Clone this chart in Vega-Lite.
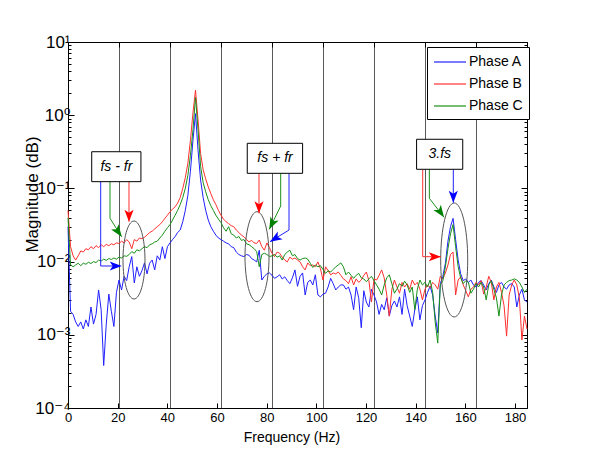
{
"$schema": "https://vega.github.io/schema/vega-lite/v6.json",
"width": 459, "height": 366,
"autosize": {"type": "none"},
"padding": {"left": 68, "top": 42, "right": 64, "bottom": 66},
"background": "white",
"config": {"view": {"stroke": null}, "font": "Liberation Sans",
  "axis": {"labelFont": "Liberation Sans", "titleFont": "Liberation Sans", "labelColor": "black", "titleColor": "black", "titleFontWeight": "normal", "domainColor": "black", "tickColor": "black", "domainWidth": 1, "tickWidth": 1, "labelFlush": false, "labelOverlap": false}},
"datasets": {
"spec": [
{"f":0,"Phase A":0.03,"Phase B":0.05,"Phase C":0.04},
{"f":1,"Phase A":0.0021,"Phase B":0.016,"Phase C":0.009},
{"f":2,"Phase A":0.0019,"Phase B":0.012,"Phase C":0.0085},
{"f":3,"Phase A":0.0015,"Phase B":0.0105,"Phase C":0.009},
{"f":4,"Phase A":0.0013,"Phase B":0.012,"Phase C":0.0095},
{"f":5,"Phase A":0.0015,"Phase B":0.014,"Phase C":0.0088},
{"f":6,"Phase A":0.0012,"Phase B":0.0135,"Phase C":0.0095},
{"f":7,"Phase A":0.0016,"Phase B":0.015,"Phase C":0.0092},
{"f":8,"Phase A":0.0013,"Phase B":0.0145,"Phase C":0.0098},
{"f":9,"Phase A":0.0024,"Phase B":0.016,"Phase C":0.0094},
{"f":10,"Phase A":0.0014,"Phase B":0.015,"Phase C":0.01},
{"f":11,"Phase A":0.0019,"Phase B":0.0165,"Phase C":0.0097},
{"f":12,"Phase A":0.0041,"Phase B":0.0155,"Phase C":0.0105},
{"f":13,"Phase A":0.0022,"Phase B":0.017,"Phase C":0.0102},
{"f":14,"Phase A":0.00038,"Phase B":0.016,"Phase C":0.0108},
{"f":15,"Phase A":0.0014,"Phase B":0.0172,"Phase C":0.0104},
{"f":16,"Phase A":0.0036,"Phase B":0.0165,"Phase C":0.011},
{"f":17,"Phase A":0.0021,"Phase B":0.0175,"Phase C":0.0107},
{"f":18,"Phase A":0.0013,"Phase B":0.017,"Phase C":0.0112},
{"f":19,"Phase A":0.0038,"Phase B":0.018,"Phase C":0.0108},
{"f":20,"Phase A":0.0056,"Phase B":0.0177,"Phase C":0.0115},
{"f":21,"Phase A":0.0041,"Phase B":0.019,"Phase C":0.0112},
{"f":22,"Phase A":0.0063,"Phase B":0.018,"Phase C":0.012},
{"f":23,"Phase A":0.0055,"Phase B":0.02,"Phase C":0.0118},
{"f":24,"Phase A":0.0085,"Phase B":0.0185,"Phase C":0.0125},
{"f":25,"Phase A":0.0117,"Phase B":0.015,"Phase C":0.0137},
{"f":26,"Phase A":0.0051,"Phase B":0.02,"Phase C":0.013},
{"f":27,"Phase A":0.0085,"Phase B":0.019,"Phase C":0.0145},
{"f":28,"Phase A":0.0063,"Phase B":0.021,"Phase C":0.014},
{"f":29,"Phase A":0.0075,"Phase B":0.0205,"Phase C":0.015},
{"f":30,"Phase A":0.0096,"Phase B":0.0215,"Phase C":0.016},
{"f":31,"Phase A":0.0068,"Phase B":0.023,"Phase C":0.0155},
{"f":32,"Phase A":0.0095,"Phase B":0.025,"Phase C":0.017},
{"f":33,"Phase A":0.0105,"Phase B":0.026,"Phase C":0.0175},
{"f":34,"Phase A":0.0077,"Phase B":0.028,"Phase C":0.0185},
{"f":35,"Phase A":0.012,"Phase B":0.03,"Phase C":0.019},
{"f":36,"Phase A":0.0105,"Phase B":0.032,"Phase C":0.021},
{"f":37,"Phase A":0.016,"Phase B":0.035,"Phase C":0.023},
{"f":38,"Phase A":0.011,"Phase B":0.039,"Phase C":0.026},
{"f":39,"Phase A":0.016,"Phase B":0.043,"Phase C":0.029},
{"f":40,"Phase A":0.018,"Phase B":0.048,"Phase C":0.032},
{"f":41,"Phase A":0.02,"Phase B":0.052,"Phase C":0.037},
{"f":42,"Phase A":0.022,"Phase B":0.056,"Phase C":0.043},
{"f":43,"Phase A":0.025,"Phase B":0.063,"Phase C":0.05},
{"f":44,"Phase A":0.027,"Phase B":0.075,"Phase C":0.06},
{"f":45,"Phase A":0.035,"Phase B":0.1,"Phase C":0.075},
{"f":46,"Phase A":0.05,"Phase B":0.14,"Phase C":0.1},
{"f":47,"Phase A":0.08,"Phase B":0.22,"Phase C":0.15},
{"f":48,"Phase A":0.17,"Phase B":0.45,"Phase C":0.28},
{"f":49,"Phase A":0.45,"Phase B":1.07,"Phase C":0.63},
{"f":50,"Phase A":1.05,"Phase B":2.2,"Phase C":1.75},
{"f":51,"Phase A":0.33,"Phase B":0.86,"Phase C":0.63},
{"f":52,"Phase A":0.13,"Phase B":0.3,"Phase C":0.2},
{"f":53,"Phase A":0.075,"Phase B":0.18,"Phase C":0.12},
{"f":54,"Phase A":0.05,"Phase B":0.135,"Phase C":0.09},
{"f":55,"Phase A":0.037,"Phase B":0.105,"Phase C":0.07},
{"f":56,"Phase A":0.03,"Phase B":0.085,"Phase C":0.058},
{"f":57,"Phase A":0.026,"Phase B":0.07,"Phase C":0.05},
{"f":58,"Phase A":0.023,"Phase B":0.06,"Phase C":0.043},
{"f":59,"Phase A":0.021,"Phase B":0.05,"Phase C":0.038},
{"f":60,"Phase A":0.02,"Phase B":0.043,"Phase C":0.034},
{"f":61,"Phase A":0.019,"Phase B":0.038,"Phase C":0.029},
{"f":62,"Phase A":0.018,"Phase B":0.035,"Phase C":0.026},
{"f":63,"Phase A":0.0175,"Phase B":0.033,"Phase C":0.03},
{"f":64,"Phase A":0.016,"Phase B":0.031,"Phase C":0.024},
{"f":65,"Phase A":0.0155,"Phase B":0.03,"Phase C":0.023},
{"f":66,"Phase A":0.0135,"Phase B":0.027,"Phase C":0.021},
{"f":67,"Phase A":0.0125,"Phase B":0.025,"Phase C":0.022},
{"f":68,"Phase A":0.012,"Phase B":0.023,"Phase C":0.0195},
{"f":69,"Phase A":0.0117,"Phase B":0.0218,"Phase C":0.02},
{"f":70,"Phase A":0.0125,"Phase B":0.02,"Phase C":0.0175},
{"f":71,"Phase A":0.0122,"Phase B":0.0186,"Phase C":0.017},
{"f":72,"Phase A":0.011,"Phase B":0.0195,"Phase C":0.016},
{"f":73,"Phase A":0.0105,"Phase B":0.018,"Phase C":0.015},
{"f":74,"Phase A":0.0099,"Phase B":0.0177,"Phase C":0.0137},
{"f":75,"Phase A":0.0143,"Phase B":0.0197,"Phase C":0.0085},
{"f":76,"Phase A":0.0056,"Phase B":0.016,"Phase C":0.0125},
{"f":77,"Phase A":0.0063,"Phase B":0.0143,"Phase C":0.013},
{"f":78,"Phase A":0.0068,"Phase B":0.018,"Phase C":0.0125},
{"f":79,"Phase A":0.007,"Phase B":0.0155,"Phase C":0.0117},
{"f":80,"Phase A":0.0065,"Phase B":0.013,"Phase C":0.012},
{"f":81,"Phase A":0.0059,"Phase B":0.0117,"Phase C":0.0125},
{"f":82,"Phase A":0.0062,"Phase B":0.0135,"Phase C":0.0115},
{"f":83,"Phase A":0.0066,"Phase B":0.013,"Phase C":0.012},
{"f":84,"Phase A":0.0058,"Phase B":0.0115,"Phase C":0.0105},
{"f":85,"Phase A":0.0062,"Phase B":0.0105,"Phase C":0.0125},
{"f":86,"Phase A":0.0055,"Phase B":0.0099,"Phase C":0.0135},
{"f":87,"Phase A":0.005,"Phase B":0.0115,"Phase C":0.0143},
{"f":88,"Phase A":0.006,"Phase B":0.0108,"Phase C":0.012},
{"f":89,"Phase A":0.0077,"Phase B":0.0112,"Phase C":0.0125},
{"f":90,"Phase A":0.0046,"Phase B":0.0105,"Phase C":0.011},
{"f":91,"Phase A":0.0063,"Phase B":0.0099,"Phase C":0.0105},
{"f":92,"Phase A":0.007,"Phase B":0.0085,"Phase C":0.011},
{"f":93,"Phase A":0.0035,"Phase B":0.0077,"Phase C":0.0112},
{"f":94,"Phase A":0.0052,"Phase B":0.0096,"Phase C":0.0108},
{"f":95,"Phase A":0.0056,"Phase B":0.0088,"Phase C":0.0095},
{"f":96,"Phase A":0.0048,"Phase B":0.009,"Phase C":0.0083},
{"f":97,"Phase A":0.0066,"Phase B":0.0085,"Phase C":0.009},
{"f":98,"Phase A":0.0035,"Phase B":0.0099,"Phase C":0.0085},
{"f":99,"Phase A":0.0033,"Phase B":0.008,"Phase C":0.0088},
{"f":100,"Phase A":0.0036,"Phase B":0.0056,"Phase C":0.0078},
{"f":101,"Phase A":0.0037,"Phase B":0.0085,"Phase C":0.0069},
{"f":102,"Phase A":0.0045,"Phase B":0.0075,"Phase C":0.0075},
{"f":103,"Phase A":0.0059,"Phase B":0.0066,"Phase C":0.0072},
{"f":104,"Phase A":0.005,"Phase B":0.007,"Phase C":0.0078},
{"f":105,"Phase A":0.0041,"Phase B":0.0068,"Phase C":0.0085},
{"f":106,"Phase A":0.0045,"Phase B":0.0072,"Phase C":0.009},
{"f":107,"Phase A":0.0048,"Phase B":0.0065,"Phase C":0.0096},
{"f":108,"Phase A":0.0048,"Phase B":0.0058,"Phase C":0.0085},
{"f":109,"Phase A":0.0042,"Phase B":0.0055,"Phase C":0.0066},
{"f":110,"Phase A":0.0045,"Phase B":0.005,"Phase C":0.0072},
{"f":111,"Phase A":0.0035,"Phase B":0.0062,"Phase C":0.0065},
{"f":112,"Phase A":0.0022,"Phase B":0.0048,"Phase C":0.0059},
{"f":113,"Phase A":0.0045,"Phase B":0.0058,"Phase C":0.0065},
{"f":114,"Phase A":0.0032,"Phase B":0.0052,"Phase C":0.0069},
{"f":115,"Phase A":0.00125,"Phase B":0.0056,"Phase C":0.006},
{"f":116,"Phase A":0.004,"Phase B":0.0065,"Phase C":0.0058},
{"f":117,"Phase A":0.0028,"Phase B":0.0072,"Phase C":0.0053},
{"f":118,"Phase A":0.0024,"Phase B":0.0055,"Phase C":0.0058},
{"f":119,"Phase A":0.0042,"Phase B":0.0028,"Phase C":0.0063},
{"f":120,"Phase A":0.0035,"Phase B":0.0058,"Phase C":0.0055},
{"f":121,"Phase A":0.0028,"Phase B":0.0056,"Phase C":0.0048},
{"f":122,"Phase A":0.0019,"Phase B":0.0065,"Phase C":0.0042},
{"f":123,"Phase A":0.0026,"Phase B":0.0077,"Phase C":0.0035},
{"f":124,"Phase A":0.0022,"Phase B":0.006,"Phase C":0.0048},
{"f":125,"Phase A":0.0032,"Phase B":0.0035,"Phase C":0.006},
{"f":126,"Phase A":0.0018,"Phase B":0.0018,"Phase C":0.0066},
{"f":127,"Phase A":0.0025,"Phase B":0.0042,"Phase C":0.005},
{"f":128,"Phase A":0.0029,"Phase B":0.0056,"Phase C":0.0037},
{"f":129,"Phase A":0.0024,"Phase B":0.0045,"Phase C":0.0042},
{"f":130,"Phase A":0.0033,"Phase B":0.0037,"Phase C":0.005},
{"f":131,"Phase A":0.0019,"Phase B":0.0052,"Phase C":0.0046},
{"f":132,"Phase A":0.0042,"Phase B":0.0045,"Phase C":0.0054},
{"f":133,"Phase A":0.0025,"Phase B":0.005,"Phase C":0.0048},
{"f":134,"Phase A":0.0018,"Phase B":0.0042,"Phase C":0.0038},
{"f":135,"Phase A":0.0013,"Phase B":0.0056,"Phase C":0.0045},
{"f":136,"Phase A":0.0022,"Phase B":0.0048,"Phase C":0.0022},
{"f":137,"Phase A":0.0033,"Phase B":0.0052,"Phase C":0.0042},
{"f":138,"Phase A":0.0016,"Phase B":0.0042,"Phase C":0.0056},
{"f":139,"Phase A":0.0025,"Phase B":0.003,"Phase C":0.0048},
{"f":140,"Phase A":0.003,"Phase B":0.0042,"Phase C":0.0052},
{"f":141,"Phase A":0.0038,"Phase B":0.0048,"Phase C":0.0045},
{"f":142,"Phase A":0.0046,"Phase B":0.0044,"Phase C":0.0056},
{"f":143,"Phase A":0.0035,"Phase B":0.0052,"Phase C":0.0038},
{"f":144,"Phase A":0.0018,"Phase B":0.0048,"Phase C":0.0015},
{"f":145,"Phase A":0.00106,"Phase B":0.0042,"Phase C":0.00077},
{"f":146,"Phase A":0.005,"Phase B":0.0063,"Phase C":0.0048},
{"f":147,"Phase A":0.0063,"Phase B":0.0058,"Phase C":0.0055},
{"f":148,"Phase A":0.0095,"Phase B":0.007,"Phase C":0.0085},
{"f":149,"Phase A":0.019,"Phase B":0.009,"Phase C":0.015},
{"f":150,"Phase A":0.03,"Phase B":0.0125,"Phase C":0.024},
{"f":151,"Phase A":0.039,"Phase B":0.0135,"Phase C":0.032},
{"f":152,"Phase A":0.02,"Phase B":0.0035,"Phase C":0.016},
{"f":153,"Phase A":0.0105,"Phase B":0.0056,"Phase C":0.0085},
{"f":154,"Phase A":0.0068,"Phase B":0.0062,"Phase C":0.006},
{"f":155,"Phase A":0.0055,"Phase B":0.0048,"Phase C":0.005},
{"f":156,"Phase A":0.0058,"Phase B":0.004,"Phase C":0.0055},
{"f":157,"Phase A":0.0052,"Phase B":0.0033,"Phase C":0.0052},
{"f":158,"Phase A":0.0056,"Phase B":0.0042,"Phase C":0.0037},
{"f":159,"Phase A":0.0048,"Phase B":0.0045,"Phase C":0.0042},
{"f":160,"Phase A":0.0045,"Phase B":0.0052,"Phase C":0.005},
{"f":161,"Phase A":0.0052,"Phase B":0.0048,"Phase C":0.0045},
{"f":162,"Phase A":0.0055,"Phase B":0.0055,"Phase C":0.0052},
{"f":163,"Phase A":0.0048,"Phase B":0.0036,"Phase C":0.0045},
{"f":164,"Phase A":0.0041,"Phase B":0.0045,"Phase C":0.003},
{"f":165,"Phase A":0.005,"Phase B":0.0063,"Phase C":0.0048},
{"f":166,"Phase A":0.0056,"Phase B":0.0052,"Phase C":0.0055},
{"f":167,"Phase A":0.0045,"Phase B":0.003,"Phase C":0.0042},
{"f":168,"Phase A":0.0038,"Phase B":0.0045,"Phase C":0.0032},
{"f":169,"Phase A":0.0048,"Phase B":0.0052,"Phase C":0.0018},
{"f":170,"Phase A":0.0052,"Phase B":0.0038,"Phase C":0.0035},
{"f":171,"Phase A":0.0045,"Phase B":0.0025,"Phase C":0.0048},
{"f":172,"Phase A":0.0042,"Phase B":0.00096,"Phase C":0.0052},
{"f":173,"Phase A":0.0048,"Phase B":0.0035,"Phase C":0.0055},
{"f":174,"Phase A":0.005,"Phase B":0.0048,"Phase C":0.0056},
{"f":175,"Phase A":0.0045,"Phase B":0.0056,"Phase C":0.0058},
{"f":176,"Phase A":0.0024,"Phase B":0.0048,"Phase C":0.0056},
{"f":177,"Phase A":0.0035,"Phase B":0.0032,"Phase C":0.0052},
{"f":178,"Phase A":0.0042,"Phase B":0.00085,"Phase C":0.0045},
{"f":179,"Phase A":0.003,"Phase B":0.0018,"Phase C":0.0038},
{"f":180,"Phase A":0.0028,"Phase B":0.0012,"Phase C":0.0042}
],
"arrows": [
{"arrow":"b1A","phase":"Phase A","k":0,"f":12.82,"m":0.1235},
{"arrow":"b1A","phase":"Phase A","k":1,"f":12.82,"m":0.00871},
{"arrow":"b1A","phase":"Phase A","k":2,"f":20.5,"m":0.00871},
{"arrow":"b1C","phase":"Phase C","k":0,"f":16.47,"m":0.1235},
{"arrow":"b1C","phase":"Phase C","k":1,"f":16.47,"m":0.039},
{"arrow":"b1C","phase":"Phase C","k":2,"f":21.06,"m":0.02188},
{"arrow":"b1B","phase":"Phase B","k":0,"f":23.92,"m":0.1235},
{"arrow":"b1B","phase":"Phase B","k":1,"f":23.92,"m":0.0351},
{"arrow":"b2B","phase":"Phase B","k":0,"f":74.9,"m":0.1608},
{"arrow":"b2B","phase":"Phase B","k":1,"f":74.9,"m":0.0457},
{"arrow":"b2C","phase":"Phase C","k":0,"f":83.41,"m":0.1608},
{"arrow":"b2C","phase":"Phase C","k":1,"f":83.41,"m":0.0575},
{"arrow":"b2C","phase":"Phase C","k":2,"f":78.94,"m":0.0276},
{"arrow":"b2A","phase":"Phase A","k":0,"f":86.67,"m":0.1608},
{"arrow":"b2A","phase":"Phase A","k":1,"f":86.67,"m":0.027},
{"arrow":"b2A","phase":"Phase A","k":2,"f":79.22,"m":0.0187},
{"arrow":"b3B","phase":"Phase B","k":0,"f":139.1,"m":0.1824},
{"arrow":"b3B","phase":"Phase B","k":1,"f":139.1,"m":0.01167},
{"arrow":"b3B","phase":"Phase B","k":2,"f":146.2,"m":0.01167},
{"arrow":"b3C","phase":"Phase C","k":0,"f":141.7,"m":0.1824},
{"arrow":"b3C","phase":"Phase C","k":1,"f":141.7,"m":0.0733},
{"arrow":"b3C","phase":"Phase C","k":2,"f":147.45,"m":0.0403},
{"arrow":"b3A","phase":"Phase A","k":0,"f":151.1,"m":0.1824},
{"arrow":"b3A","phase":"Phase A","k":1,"f":151.1,"m":0.0638}
],
"heads": [
{"arrow":"b1A","phase":"Phase A","f":21.06,"m":0.00871},
{"arrow":"b1C","phase":"Phase C","f":21.06,"m":0.02188},
{"arrow":"b1B","phase":"Phase B","f":23.92,"m":0.0351},
{"arrow":"b2B","phase":"Phase B","f":74.9,"m":0.0457},
{"arrow":"b2C","phase":"Phase C","f":78.94,"m":0.0276},
{"arrow":"b2A","phase":"Phase A","f":79.22,"m":0.0187},
{"arrow":"b3B","phase":"Phase B","f":146.2,"m":0.01167},
{"arrow":"b3C","phase":"Phase C","f":147.45,"m":0.0403},
{"arrow":"b3A","phase":"Phase A","f":151.1,"m":0.0638}
],
"boxes": [
{"label":"fs - fr","f1":9.3,"f2":28.6,"m1":0.317,"m2":0.1236,"tf":18.97,"tm":0.198},
{"label":"fs + fr","f1":70.3,"f2":92.0,"m1":0.413,"m2":0.1607,"tf":81.2,"tm":0.2575},
{"label":"3.fs","f1":136.7,"f2":154.8,"m1":0.469,"m2":0.1824,"tf":145.8,"tm":0.292}
],
"ellipses": [
{"id":"e1","f":25.88,"m":0.01052},
{"id":"e2","f":74.12,"m":0.01167},
{"id":"e3","f":151.45,"m":0.01052}
],
"frame": [
{"f":0,"m":0.0001},
{"f":180,"m":10}
]
},
"layer": [
{
"layer": [
{
"data": {"name": "spec"},
"transform": [{"fold": ["Phase A", "Phase B", "Phase C"], "as": ["phase", "mag"]}],
"mark": {"type": "line", "strokeWidth": 1},
"encoding": {
"x": {"field": "f", "type": "quantitative",
  "scale": {"domain": [0, 180], "nice": false, "zero": false},
  "axis": {"orient": "top", "values": [0,20,40,60,80,100,120,140,160,180], "labels": false, "tickSize": -5, "grid": true, "gridColor": "#5a5a5a", "gridWidth": 1, "gridOpacity": 1, "title": null}},
"y": {"field": "mag", "type": "quantitative",
  "scale": {"type": "log", "domain": [0.0001, 10], "nice": false},
  "axis": {"orient": "left", "grid": false,
    "values": [0.0001,0.0002,0.0003,0.0004,0.0005,0.0006,0.0007,0.0008,0.0009,0.001,0.002,0.003,0.004,0.005,0.006,0.007,0.008,0.009,0.01,0.02,0.03,0.04,0.05,0.06,0.07,0.08,0.09,0.1,0.2,0.3,0.4,0.5,0.6,0.7,0.8,0.9,1,2,3,4,5,6,7,8,9,10],
    "labelExpr": "datum.value == 10 ? '10¹' : datum.value == 1 ? '10⁰' : datum.value == 0.1 ? '10⁻¹' : datum.value == 0.01 ? '10⁻²' : datum.value == 0.001 ? '10⁻³' : datum.value == 0.0001 ? '10⁻⁴' : ''",
    "tickSize": {"condition": {"test": "indexof([0.0001,0.001,0.01,0.1,1,10], datum.value) >= 0", "value": -6}, "value": -3},
    "labelFont": "Liberation Sans, DejaVu Sans",
    "labelFontSize": 17, "labelPadding": 4,
    "title": "Magnitude (dB)", "titleFontSize": 17, "titleX": -31, "titleY": 152, "titleBaseline": "alphabetic"}},
"color": {"field": "phase", "type": "nominal",
  "scale": {"domain": ["Phase A", "Phase B", "Phase C"], "range": ["#2020ff", "#ff3030", "#189018"]},
  "legend": {"orient": "none", "legendX": 359, "legendY": 5, "title": null, "strokeColor": "black", "fillColor": "white", "padding": 6, "symbolType": "M-1,0L3,0", "symbolSize": 256, "symbolStrokeWidth": 1.2, "labelOffset": 18, "rowPadding": 6, "labelFontSize": 14, "labelFont": "Liberation Sans", "labelColor": "black", "cornerRadius": 0}}
}
},
{"data": {"name": "ellipses"}, "transform": [{"filter": "datum.id == 'e1'"}],
 "mark": {"type": "point", "shape": "M0,-1 C0.156,-1 0.282,-0.552 0.282,0 C0.282,0.552 0.156,1 0,1 C-0.156,1 -0.282,0.552 -0.282,0 C-0.282,-0.552 -0.156,-1 0,-1 Z", "size": 6084, "filled": false, "color": "#555555", "strokeWidth": 1, "opacity": 1},
 "encoding": {"x": {"field": "f", "type": "quantitative"}, "y": {"field": "m", "type": "quantitative"}}},
{"data": {"name": "ellipses"}, "transform": [{"filter": "datum.id == 'e2'"}],
 "mark": {"type": "point", "shape": "M0,-1 C0.147,-1 0.267,-0.552 0.267,0 C0.267,0.552 0.147,1 0,1 C-0.147,1 -0.267,0.552 -0.267,0 C-0.267,-0.552 -0.147,-1 0,-1 Z", "size": 8100, "filled": false, "color": "#555555", "strokeWidth": 1, "opacity": 1},
 "encoding": {"x": {"field": "f", "type": "quantitative"}, "y": {"field": "m", "type": "quantitative"}}},
{"data": {"name": "ellipses"}, "transform": [{"filter": "datum.id == 'e3'"}],
 "mark": {"type": "point", "shape": "M0,-1 C0.131,-1 0.237,-0.552 0.237,0 C0.237,0.552 0.131,1 0,1 C-0.131,1 -0.237,0.552 -0.237,0 C-0.237,-0.552 -0.131,-1 0,-1 Z", "size": 12996, "filled": false, "color": "#555555", "strokeWidth": 1, "opacity": 1},
 "encoding": {"x": {"field": "f", "type": "quantitative"}, "y": {"field": "m", "type": "quantitative"}}},
{"data": {"name": "arrows"},
 "mark": {"type": "line", "strokeWidth": 1},
 "encoding": {"x": {"field": "f", "type": "quantitative"}, "y": {"field": "m", "type": "quantitative"},
   "color": {"field": "phase", "type": "nominal", "scale": {"domain": ["Phase A", "Phase B", "Phase C"], "range": ["#2020ff", "#ff3030", "#189018"]}, "legend": null}, "detail": {"field": "arrow"}, "order": {"field": "k", "type": "quantitative"}}},
{"data": {"name": "heads"}, "transform": [{"filter": "indexof(['b1B','b2B','b3A'], datum.arrow) >= 0"}],
 "mark": {"type": "point", "shape": "M0,0 L-0.38,-1 L0,-0.75 L0.38,-1 Z", "size": 576, "filled": true, "opacity": 1, "angle": 0},
 "encoding": {"x": {"field": "f", "type": "quantitative"}, "y": {"field": "m", "type": "quantitative"}, "color": {"field": "phase", "type": "nominal", "scale": {"domain": ["Phase A", "Phase B", "Phase C"], "range": ["#0000ff", "#ff0000", "#008000"]}, "legend": null}}},
{"data": {"name": "heads"}, "transform": [{"filter": "indexof(['b1A','b3B'], datum.arrow) >= 0"}],
 "mark": {"type": "point", "shape": "M0,0 L-0.38,-1 L0,-0.75 L0.38,-1 Z", "size": 576, "filled": true, "opacity": 1, "angle": 270},
 "encoding": {"x": {"field": "f", "type": "quantitative"}, "y": {"field": "m", "type": "quantitative"}, "color": {"field": "phase", "type": "nominal", "scale": {"domain": ["Phase A", "Phase B", "Phase C"], "range": ["#0000ff", "#ff0000", "#008000"]}, "legend": null}}},
{"data": {"name": "heads"}, "transform": [{"filter": "indexof(['b1C','b3C'], datum.arrow) >= 0"}],
 "mark": {"type": "point", "shape": "M0,0 L-0.38,-1 L0,-0.75 L0.38,-1 Z", "size": 576, "filled": true, "opacity": 1, "angle": 325},
 "encoding": {"x": {"field": "f", "type": "quantitative"}, "y": {"field": "m", "type": "quantitative"}, "color": {"field": "phase", "type": "nominal", "scale": {"domain": ["Phase A", "Phase B", "Phase C"], "range": ["#0000ff", "#ff0000", "#008000"]}, "legend": null}}},
{"data": {"name": "heads"}, "transform": [{"filter": "datum.arrow == 'b2C'"}],
 "mark": {"type": "point", "shape": "M0,0 L-0.38,-1 L0,-0.75 L0.38,-1 Z", "size": 576, "filled": true, "opacity": 1, "angle": 26},
 "encoding": {"x": {"field": "f", "type": "quantitative"}, "y": {"field": "m", "type": "quantitative"}, "color": {"field": "phase", "type": "nominal", "scale": {"domain": ["Phase A", "Phase B", "Phase C"], "range": ["#0000ff", "#ff0000", "#008000"]}, "legend": null}}},
{"data": {"name": "heads"}, "transform": [{"filter": "datum.arrow == 'b2A'"}],
 "mark": {"type": "point", "shape": "M0,0 L-0.38,-1 L0,-0.75 L0.38,-1 Z", "size": 576, "filled": true, "opacity": 1, "angle": 58},
 "encoding": {"x": {"field": "f", "type": "quantitative"}, "y": {"field": "m", "type": "quantitative"}, "color": {"field": "phase", "type": "nominal", "scale": {"domain": ["Phase A", "Phase B", "Phase C"], "range": ["#0000ff", "#ff0000", "#008000"]}, "legend": null}}},
{"data": {"name": "boxes"},
 "mark": {"type": "rect", "fill": "white", "stroke": "black", "strokeWidth": 1},
 "encoding": {"x": {"field": "f1", "type": "quantitative"}, "x2": {"field": "f2"}, "y": {"field": "m1", "type": "quantitative"}, "y2": {"field": "m2"}}},
{"data": {"name": "boxes"},
 "mark": {"type": "text", "font": "Liberation Sans", "fontStyle": "italic", "fontSize": 14, "color": "black", "baseline": "middle", "align": "center"},
 "encoding": {"x": {"field": "tf", "type": "quantitative"}, "y": {"field": "tm", "type": "quantitative"}, "text": {"field": "label"}}}
],
"resolve": {"scale": {"color": "independent"}}
},
{
"data": {"name": "frame"},
"mark": {"type": "point", "opacity": 0},
"encoding": {
"x": {"field": "f", "type": "quantitative",
  "scale": {"domain": [0, 184.83], "nice": false, "zero": false},
  "axis": {"orient": "bottom", "values": [0,20,40,60,80,100,120,140,160,180], "tickSize": -5, "labelFontSize": 13, "labelPadding": 8, "grid": false, "title": "Frequency (Hz)", "titleFontSize": 14, "titlePadding": 6, "titleX": 223.5}},
"y": {"field": "m", "type": "quantitative", "scale": {"type": "log"},
  "axis": {"orient": "right", "grid": false, "labels": false, "title": null,
    "values": [0.0001,0.0002,0.0003,0.0004,0.0005,0.0006,0.0007,0.0008,0.0009,0.001,0.002,0.003,0.004,0.005,0.006,0.007,0.008,0.009,0.01,0.02,0.03,0.04,0.05,0.06,0.07,0.08,0.09,0.1,0.2,0.3,0.4,0.5,0.6,0.7,0.8,0.9,1,2,3,4,5,6,7,8,9,10],
    "tickSize": {"condition": {"test": "indexof([0.0001,0.001,0.01,0.1,1,10], datum.value) >= 0", "value": -6}, "value": -3}}}
}
}
],
"resolve": {"scale": {"x": "independent"}, "axis": {"x": "independent", "y": "independent"}}
}
